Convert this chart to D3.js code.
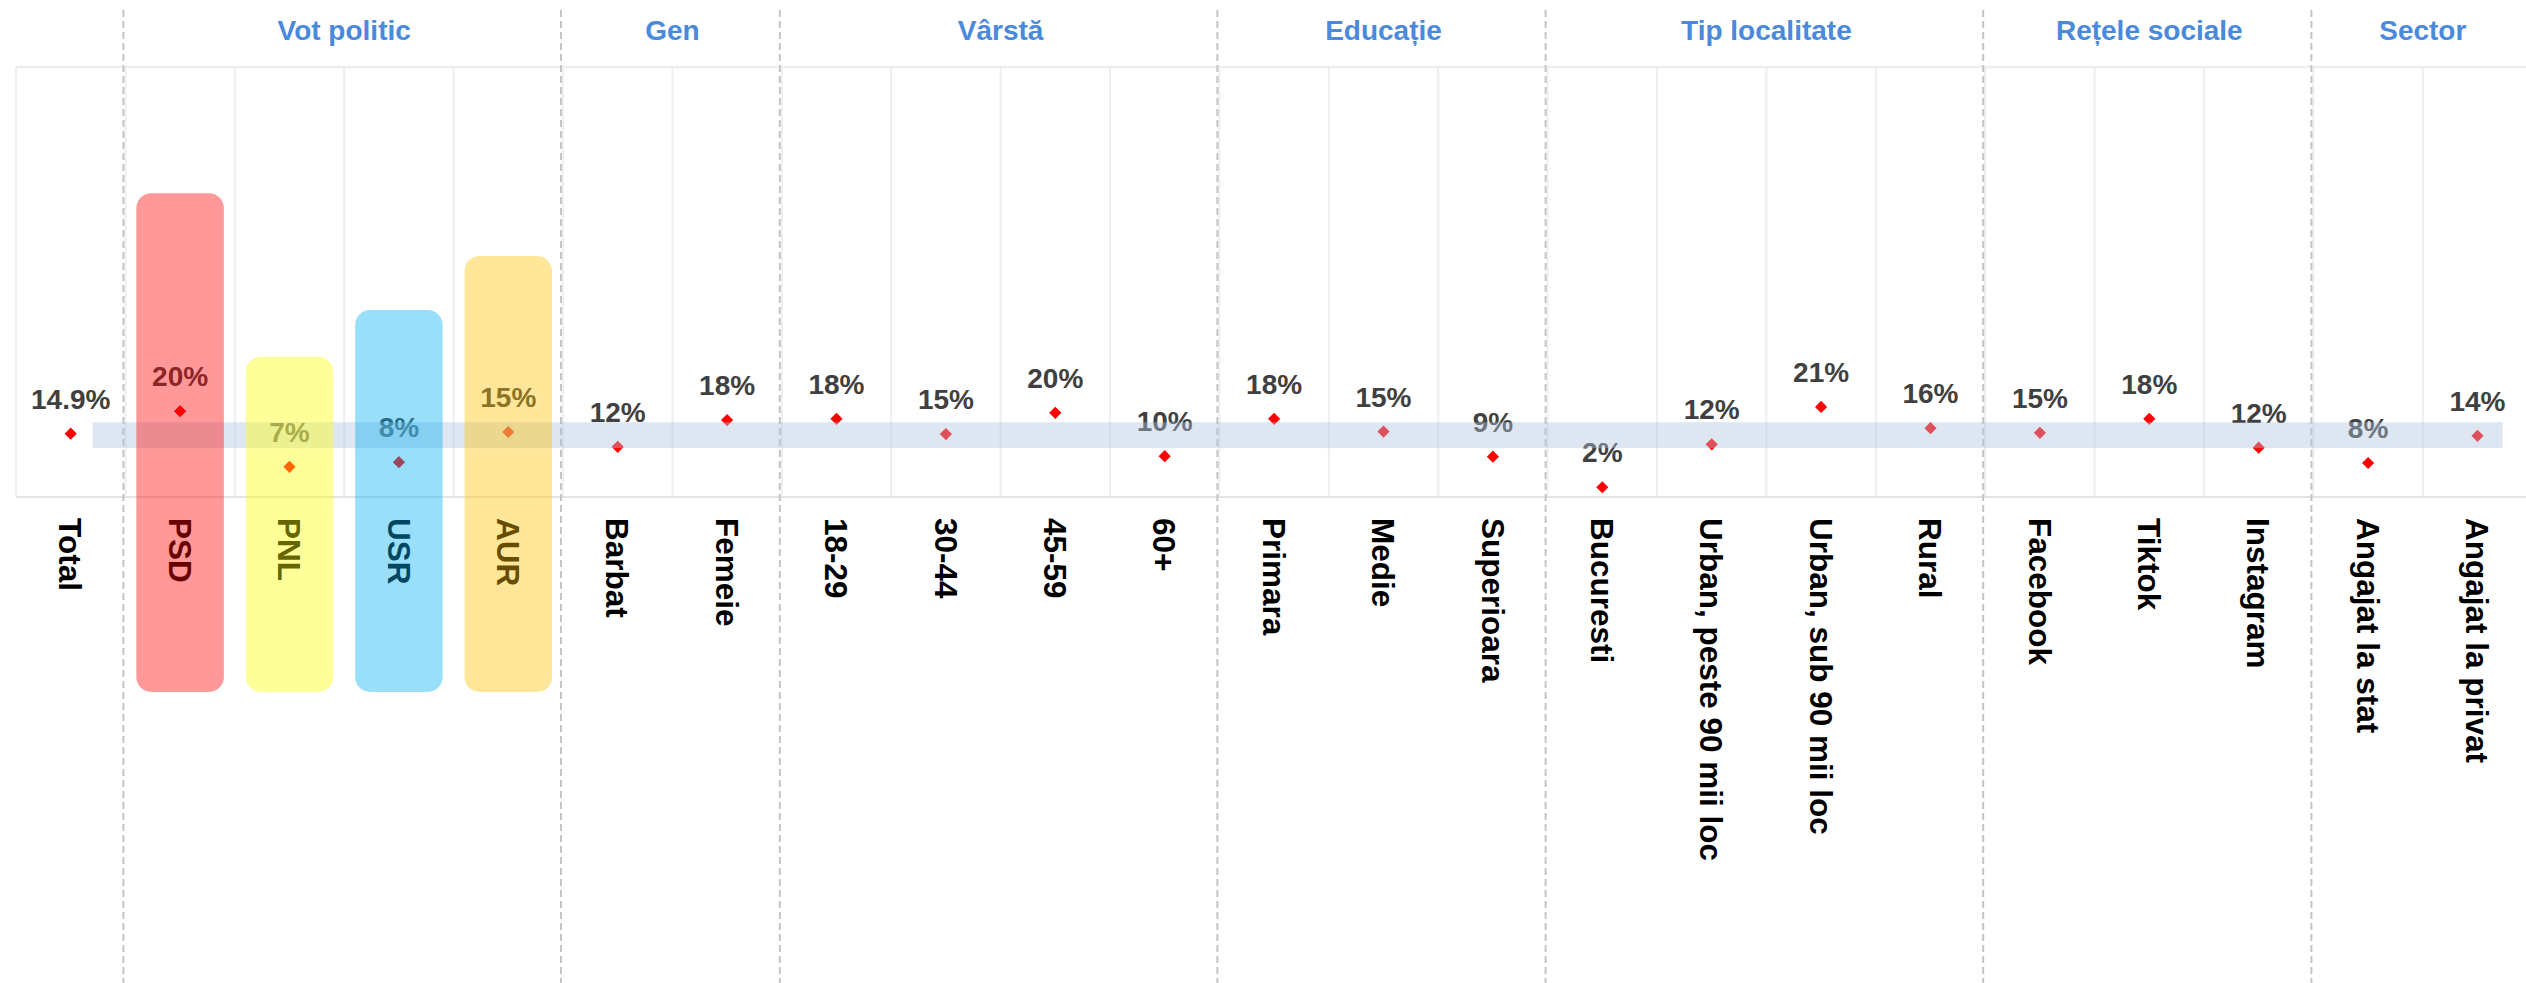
<!DOCTYPE html>
<html>
<head>
<meta charset="utf-8">
<script src="https://cdn.jsdelivr.net/npm/d3@7"></script>
<style>
  html, body { margin: 0; padding: 0; background: #fff; }
  svg { display: block; }
  text { font-family: "Liberation Sans", Arial, sans-serif; font-weight: bold; }
</style>
</head>
<body>
<script>
// ---- data ----
const categories = ["Total","PSD","PNL","USR","AUR","Barbat","Femeie","18-29","30-44","45-59","60+",
  "Primara","Medie","Superioara","Bucuresti","Urban, peste 90 mii loc","Urban, sub 90 mii loc","Rural",
  "Facebook","Tiktok","Instagram","Angajat la stat","Angajat la privat"];
const values = [14.9,20.2,7.1,8.2,15.3,11.8,18.1,18.4,14.8,19.8,9.6,
  18.4,15.4,9.5,2.3,12.4,21.2,16.2,
  15.1,18.4,11.6,8.0,14.4];
const valueLabels = ["14.9%","20%","7%","8%","15%","12%","18%","18%","15%","20%","10%",
  "18%","15%","9%","2%","12%","21%","16%",
  "15%","18%","12%","8%","14%"];
const groupNames = ["Vot politic","Gen","Vârstă","Educație","Tip localitate","Rețele sociale","Sector"];
const groupFirst = ["PSD","Barbat","18-29","Primara","Bucuresti","Facebook","Angajat la stat"];
const groupLast  = ["AUR","Femeie","60+","Superioara","Rural","Instagram","Angajat la privat"];
const parties = ["PSD","PNL","USR","AUR"];
const partyTops = [71.5, 33, 44, 56.7];
const bandValues = [11.5, 17.6];
const bandSpan = [0.7, 22.73];

// ---- layout ----
const W = 2526, H = 983;
const plotTop = 67, plotBottom = 497, plotLeft = 16, colW = 109.4;
const barBottom = 692;
const partyColors = ["rgba(255,0,0,0.4)","rgba(255,255,0,0.4)","rgba(0,176,240,0.4)","rgba(255,192,0,0.4)"];

const svg = d3.select("body").append("svg").attr("width", W).attr("height", H);
svg.append("rect").attr("width", W).attr("height", H).attr("fill", "#fff");

const x = d3.scaleBand().domain(categories).range([plotLeft, plotLeft + categories.length * colW]).padding(0);
const xLin = d3.scaleLinear().domain([0, categories.length]).range(x.range());
const y = d3.scaleLinear().domain([0, 100]).range([plotBottom, 72]);

// column grid lines
svg.append("g").selectAll("line").data(categories.slice(1)).join("line")
  .attr("x1", d => x(d)).attr("x2", d => x(d))
  .attr("y1", plotTop).attr("y2", plotBottom)
  .attr("stroke", "#eeeeee").attr("stroke-width", 2);
// frame
svg.append("line").attr("x1", plotLeft).attr("x2", W + 10).attr("y1", plotTop).attr("y2", plotTop)
  .attr("stroke", "#eeeeee").attr("stroke-width", 2.5);
svg.append("line").attr("x1", plotLeft).attr("x2", W + 10).attr("y1", plotBottom).attr("y2", plotBottom)
  .attr("stroke", "#e4e4e4").attr("stroke-width", 2);
svg.append("line").attr("x1", plotLeft).attr("x2", plotLeft).attr("y1", plotTop).attr("y2", plotBottom)
  .attr("stroke", "#eeeeee").attr("stroke-width", 2);

// group separators (dashed)
svg.append("g").selectAll("line").data(groupFirst).join("line")
  .attr("x1", d => x(d) - 2).attr("x2", d => x(d) - 2)
  .attr("y1", 10).attr("y2", H)
  .attr("stroke", "#c4c4c4").attr("stroke-width", 2).attr("stroke-dasharray", "7,4");

// value labels
svg.append("g").selectAll("text").data(categories).join("text")
  .attr("x", d => x(d) + x.bandwidth() / 2)
  .attr("y", (d, i) => y(values[i]) - 25)
  .attr("text-anchor", "middle")
  .attr("font-size", 28)
  .attr("fill", "#404040")
  .text((d, i) => valueLabels[i]);

// markers
const diamond = d3.symbol().type(d3.symbolSquare).size(74);
svg.append("g").selectAll("path").data(categories).join("path")
  .attr("d", diamond)
  .attr("transform", (d, i) => `translate(${x(d) + x.bandwidth() / 2},${y(values[i])}) rotate(45)`)
  .attr("fill", "#ff0000");

// category labels
svg.append("g").selectAll("text").data(categories).join("text")
  .attr("transform", d => `translate(${x(d) + x.bandwidth() / 2},518) rotate(90)`)
  .attr("dy", "0.36em")
  .attr("text-anchor", "start")
  .attr("font-size", 31.5)
  .attr("fill", "#000")
  .text(d => d);

// band
svg.append("rect")
  .attr("x", xLin(bandSpan[0]))
  .attr("width", xLin(bandSpan[1]) - xLin(bandSpan[0]))
  .attr("y", y(bandValues[1]))
  .attr("height", y(bandValues[0]) - y(bandValues[1]))
  .attr("fill", "lightsteelblue").attr("fill-opacity", 0.41);

// party highlight bars
const xb = d3.scaleBand().domain(categories).range(x.range()).paddingInner(0.2).paddingOuter(0.1);
svg.append("g").selectAll("rect").data(parties).join("rect")
  .attr("x", d => xb(d))
  .attr("width", xb.bandwidth())
  .attr("y", (d, i) => y(partyTops[i]))
  .attr("height", (d, i) => barBottom - y(partyTops[i]))
  .attr("rx", 15).attr("ry", 15)
  .attr("fill", (d, i) => partyColors[i]);

// group headers
svg.append("g").selectAll("text").data(groupNames).join("text")
  .attr("x", (d, i) => (x(groupFirst[i]) + x(groupLast[i]) + x.bandwidth()) / 2)
  .attr("y", 40)
  .attr("text-anchor", "middle")
  .attr("font-size", 28)
  .attr("fill", "#4a89dc")
  .text(d => d);
</script>
</body>
</html>
